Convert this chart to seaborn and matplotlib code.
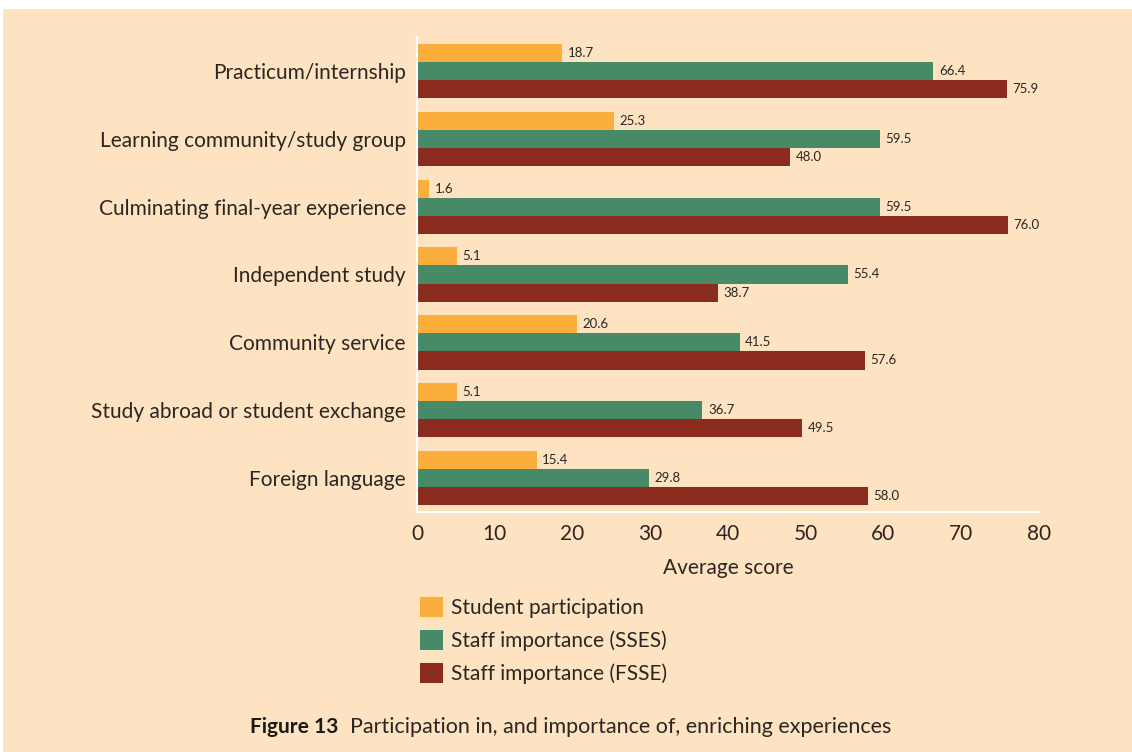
import numpy as np
import pandas as pd
import matplotlib
matplotlib.use("Agg")
import matplotlib.pyplot as plt
from matplotlib.patches import Patch, Rectangle
import seaborn as sns

# ---- data ----
experiences = [
    "Practicum/internship",
    "Learning community/study group",
    "Culminating final-year experience",
    "Independent study",
    "Community service",
    "Study abroad or student exchange",
    "Foreign language",
]
series_names = [
    "Student participation",
    "Staff importance (SSES)",
    "Staff importance (FSSE)",
]
student_participation = [18.7, 25.3, 1.6, 5.1, 20.6, 5.1, 15.4]
staff_sses = [66.4, 59.5, 59.5, 55.4, 41.5, 36.7, 29.8]
staff_fsse = [75.9, 48.0, 76.0, 38.7, 57.6, 49.5, 58.0]
x_ticks = [0, 10, 20, 30, 40, 50, 60, 70, 80]

colors = ["#FBAE3C", "#468A68", "#8B2B1E"]
bg = "#FEE3C2"
text_col = "#2b2622"

df = pd.DataFrame({
    "experience": experiences * 3,
    "series": np.repeat(series_names, len(experiences)),
    "score": student_participation + staff_sses + staff_fsse,
})

sns.set_theme(style="white")
plt.rcParams["font.family"] = ["Lato", "DejaVu Sans"]
plt.rcParams["text.color"] = text_col

fig = plt.figure(figsize=(11.32, 7.52), dpi=100, facecolor="white")
# peach panel, white strip top and left
fig.patches.append(Rectangle((3 / 1132, 0), 1, 1 - 9 / 752, transform=fig.transFigure,
                             facecolor=bg, edgecolor="none", zorder=-10))

ax = fig.add_axes([417 / 1132, 1 - 512 / 752, 622 / 1132, 475 / 752])
ax.patch.set_alpha(0)

sns.barplot(data=df, y="experience", x="score", hue="series", orient="h",
            order=experiences, hue_order=series_names, palette=colors,
            width=0.8, saturation=1, linewidth=0, legend=False, ax=ax)

for cont in ax.containers:
    ax.bar_label(cont, fmt="%.1f", padding=4, fontsize=9.5, color=text_col)

ax.set_xlim(0, 80)
ax.set_xticks(x_ticks)
ax.set_xlabel("Average score", fontsize=15, color=text_col, labelpad=10)
ax.set_ylabel("")
ax.tick_params(axis="x", direction="in", length=6, width=1.5, color="white",
               labelsize=15, labelcolor=text_col, pad=9)
ax.tick_params(axis="y", length=0, labelsize=15, labelcolor=text_col, pad=8)

for side in ["top", "right"]:
    ax.spines[side].set_visible(False)
for side in ["left", "bottom"]:
    ax.spines[side].set_color("white")
    ax.spines[side].set_linewidth(1.5)

handles = [Patch(facecolor=c, edgecolor="none") for c in colors]
fig.legend(handles, series_names, loc="upper left",
           bbox_to_anchor=(412 / 1132, 1 - 589 / 752), frameon=False,
           fontsize=15, handlelength=1.1, handleheight=1.1,
           handletextpad=0.35, labelspacing=0.57, borderaxespad=0)

fig.text(250 / 1132, 1 - 727 / 752, "Figure 13", fontsize=15, fontweight="bold",
         ha="left", va="center", color="#1a1a1a")
fig.text(350 / 1132, 1 - 727 / 752, "Participation in, and importance of, enriching experiences",
         fontsize=15.5, ha="left", va="center", color=text_col)

fig.savefig("out.png", dpi=100, facecolor="white")
